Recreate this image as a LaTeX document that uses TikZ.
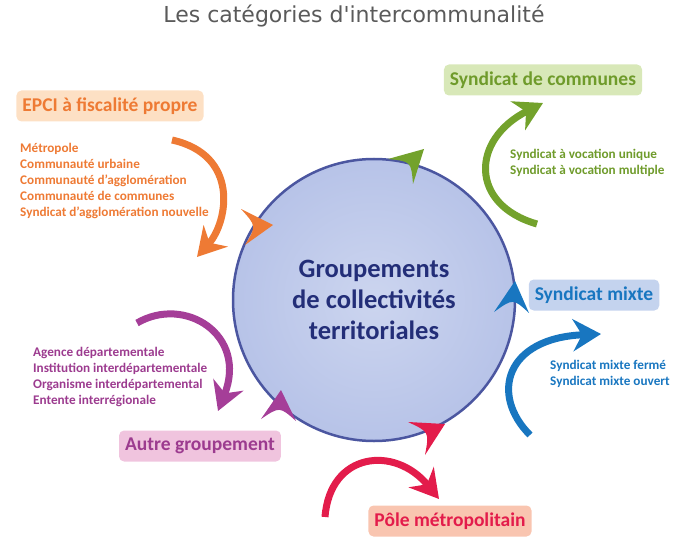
\documentclass[tikz,border=0pt]{standalone}
\usepackage{fontspec}
\setmainfont{Carlito}
\newfontfamily\titlefont{DejaVu Sans}
\usetikzlibrary{arrows.meta, calc}

\definecolor{titlegray}{HTML}{5A5A5A}
\definecolor{ringblue}{HTML}{4B56A0}
\definecolor{ringin}{HTML}{CCD5EF}
\definecolor{ringout}{HTML}{B7C3E8}
\definecolor{navy}{HTML}{232E78}
\definecolor{orangeT}{HTML}{EE7A34}
\definecolor{orangeB}{HTML}{FDE0C4}
\definecolor{greenT}{HTML}{6F9B2B}
\definecolor{greenA}{HTML}{73A22C}
\definecolor{greenB}{HTML}{D8E8B8}
\definecolor{blueT}{HTML}{1876C0}
\definecolor{blueB}{HTML}{C4D3EE}
\definecolor{purpleT}{HTML}{9C3B8F}
\definecolor{purpleA}{HTML}{A53E98}
\definecolor{purpleB}{HTML}{F0C4DE}
\definecolor{redT}{HTML}{E31C4B}
\definecolor{redB}{HTML}{F9C5B0}

% small arrowhead sitting on the ring: colour, tip, barb, barb
\newcommand{\ringtip}[4]{%
	\fill[#1] (#2) -- (#3) .. controls ($ ($(#3)!0.5!(#4)$)!0.45!(#2) $) .. (#4) -- cycle;}

\begin{document}
\begin{tikzpicture}[
	x=1pt, y=-1pt,
	category/.style={
		rectangle,
		rounded corners=5pt,
		minimum height=31pt,
		inner xsep=6pt,
		font=\fontsize{19.5}{21}\selectfont\bfseries
	},
	members/.style={
		anchor=west,
		inner sep=0pt,
		align=left,
		font=\fontsize{13.2}{16}\selectfont\bfseries
	},
	flow/.style={
		line width=7pt,
		-{Stealth[length=28pt, width=32pt, inset=9pt]}
	}
	]
	\useasboundingbox (0,0) rectangle (698,556);

	\node[font=\titlefont\fontsize{22}{26}\selectfont, text=titlegray] (title) at (354,16) {Les catégories d'intercommunalité};

	\node[circle, minimum size=282pt, draw=ringblue, line width=2.5pt,
		inner color=ringin, outer color=ringout,
		align=center, text=navy, font=\fontsize{26.5}{31}\selectfont\bfseries] (grp) at (374,300)
		{Groupements\\de collectivités\\territoriales};

	\node[category, fill=orangeB, text=orangeT] (epci) at (110,106) {EPCI à fiscalité propre};
	\node[category, fill=greenB, text=greenT] (communes) at (543,80) {Syndicat de communes};
	\node[category, fill=blueB, text=blueT] (mixte) at (594,295) {Syndicat mixte};
	\node[category, fill=purpleB, text=purpleT] (autre) at (200,446) {Autre groupement};
	\node[category, fill=redB, text=redT] (pole) at (450,521) {Pôle métropolitain};

	\node[members, text=orangeT] (epcilist) at (20,181) {Métropole\\Communauté urbaine\\Communauté d’agglomération\\Communauté de communes\\Syndicat d’agglomération nouvelle};
	\node[members, text=greenT] (communeslist) at (510,163) {Syndicat à vocation unique\\Syndicat à vocation multiple};
	\node[members, text=blueT] (mixtelist) at (550,374) {Syndicat mixte fermé\\Syndicat mixte ouvert};
	\node[members, text=purpleT] (autrelist) at (33,377) {Agence départementale\\Institution interdépartementale\\Organisme interdépartemental\\Entente interrégionale};

	% curved arrows beside the lists
	\coordinate (o1) at (172,140); \coordinate (o2) at (197,257);
	\coordinate (g1) at (537,224); \coordinate (g2) at (543,103);
	\coordinate (b1) at (530,435); \coordinate (b2) at (601,334);
	\coordinate (p1) at (137,323); \coordinate (p2) at (218,411);
	\coordinate (r1) at (325,517); \coordinate (r2) at (439,499);
	\draw[flow, orangeT] (o1) .. controls (240,155) and (228,222) .. (o2);
	\draw[flow, greenA] (g1) .. controls (470,205) and (470,140) .. (g2);
	\draw[flow, blueT] (b1) .. controls (490,395) and (505,338) .. (b2);
	\draw[flow, purpleA] (p1) .. controls (185,295) and (248,335) .. (p2);
	\draw[flow, redT] (r1) .. controls (330,452) and (395,445) .. (r2);

	% arrowheads on the ring
	\ringtip{orangeT}{273,225}{241,209}{245,245}
	\ringtip{greenA}{424,149}{388,159}{413,184}
	\ringtip{blueT}{515,281}{494,312}{529,313}
	\ringtip{purpleA}{281,390}{261,419}{296,421}
	\ringtip{redT}{445,424}{408,422}{425,455}
\end{tikzpicture}
\end{document}
